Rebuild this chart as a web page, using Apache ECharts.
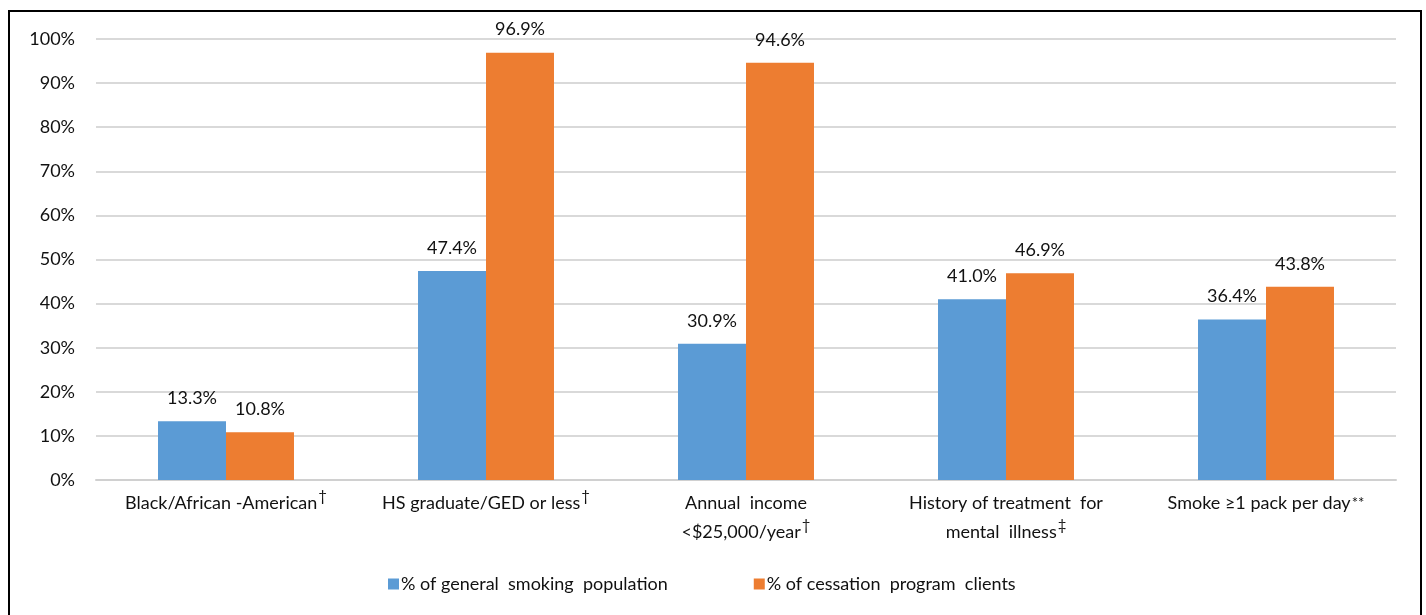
<!DOCTYPE html>
<html>
<head>
<meta charset="utf-8">
<style>
  html, body { margin: 0; padding: 0; background: #fff; }
  #chart { width: 1426px; height: 615px; }
</style>
<script src="https://cdn.jsdelivr.net/npm/echarts@6/dist/echarts.min.js"></script>
</head>
<body>
<div id="chart"></div>
<script>
// Category labels: main text plus the footnote mark shown raised after it
const categories = [
  'Black/African -American',
  'HS graduate/GED or less',
  'Annual  income\n<$25,000/year',
  'History of treatment  for\nmental  illness',
  'Smoke \u22651 pack per day'
];
const footnoteMarks = ['\u2020', '\u2020', '\u2020', '\u2021', '**'];

const seriesNames = ['% of general  smoking  population', '% of cessation  program  clients'];
const generalPopulation = [13.3, 47.4, 30.9, 41.0, 36.4];
const cessationClients = [10.8, 96.9, 94.6, 46.9, 43.8];

const yTicks = [0, 10, 20, 30, 40, 50, 60, 70, 80, 90, 100];

const FONT = 'Lato, "Noto Sans", sans-serif';
const TEXT = '#111';

const chart = echarts.init(document.getElementById('chart'));

// Daggers are lifted toward the top of the line; asterisks already sit high
function categoryLabel(value, idx) {
  const lines = value.split('\n');
  const last = lines.length - 1;
  const mark = footnoteMarks[idx];
  const style = mark === '**' ? 'star' : 'sup';
  return lines.map((l, i) => '{t|' + l + '}' + (i === last ? '{' + style + '|' + mark + '}' : '')).join('\n');
}

const barLabel = {
  show: true,
  position: 'top',
  distance: 14,
  fontFamily: FONT,
  fontSize: 18,
  color: TEXT,
  formatter: p => p.value.toFixed(1) + '%'
};

chart.setOption({
  animation: false,
  backgroundColor: '#fff',
  textStyle: { fontFamily: FONT },
  graphic: [{
    type: 'rect',
    shape: { x: 9, y: 11, width: 1412, height: 640 },
    style: { fill: 'none', stroke: '#000', lineWidth: 2 },
    silent: true
  }],
  grid: { left: 96, right: 30, top: 39, bottom: 135, containLabel: false },
  legend: {
    bottom: 17,
    left: 383,
    itemWidth: 11,
    itemHeight: 11,
    itemGap: 86,
    icon: 'rect',
    textStyle: { fontFamily: FONT, fontSize: 18, color: TEXT, padding: [0, 0, 0, -3] },
    data: seriesNames
  },
  xAxis: {
    type: 'category',
    data: categories,
    axisTick: { show: false },
    axisLine: { show: true, lineStyle: { color: '#d0d0d0', width: 2 } },
    axisLabel: {
      interval: 0,
      margin: 9,
      color: TEXT,
      formatter: categoryLabel,
      rich: {
        t: { fontFamily: FONT, fontSize: 18, color: TEXT, lineHeight: 29 },
        sup: { fontSize: 15, fontFamily: FONT, color: TEXT, lineHeight: 21, verticalAlign: 'top', padding: [0, 0, 0, 1] },
        star: { fontSize: 15, fontFamily: FONT, color: TEXT, lineHeight: 29, padding: [0, 0, 0, 1] }
      }
    }
  },
  yAxis: {
    type: 'value',
    min: yTicks[0],
    max: yTicks[yTicks.length - 1],
    interval: 10,
    axisLine: { show: false },
    axisTick: { show: false },
    splitLine: { lineStyle: { color: '#d9d9d9', width: 2 } },
    axisLabel: {
      margin: 21,
      fontFamily: FONT,
      fontSize: 18,
      color: TEXT,
      formatter: v => v + '%'
    }
  },
  series: [
    {
      name: seriesNames[0],
      type: 'bar',
      data: generalPopulation,
      barGap: '0%',
      barCategoryGap: '47.7%',
      itemStyle: { color: '#5B9BD5' },
      label: barLabel
    },
    {
      name: seriesNames[1],
      type: 'bar',
      data: cessationClients,
      itemStyle: { color: '#ED7D31' },
      label: barLabel
    }
  ]
});
</script>
</body>
</html>
